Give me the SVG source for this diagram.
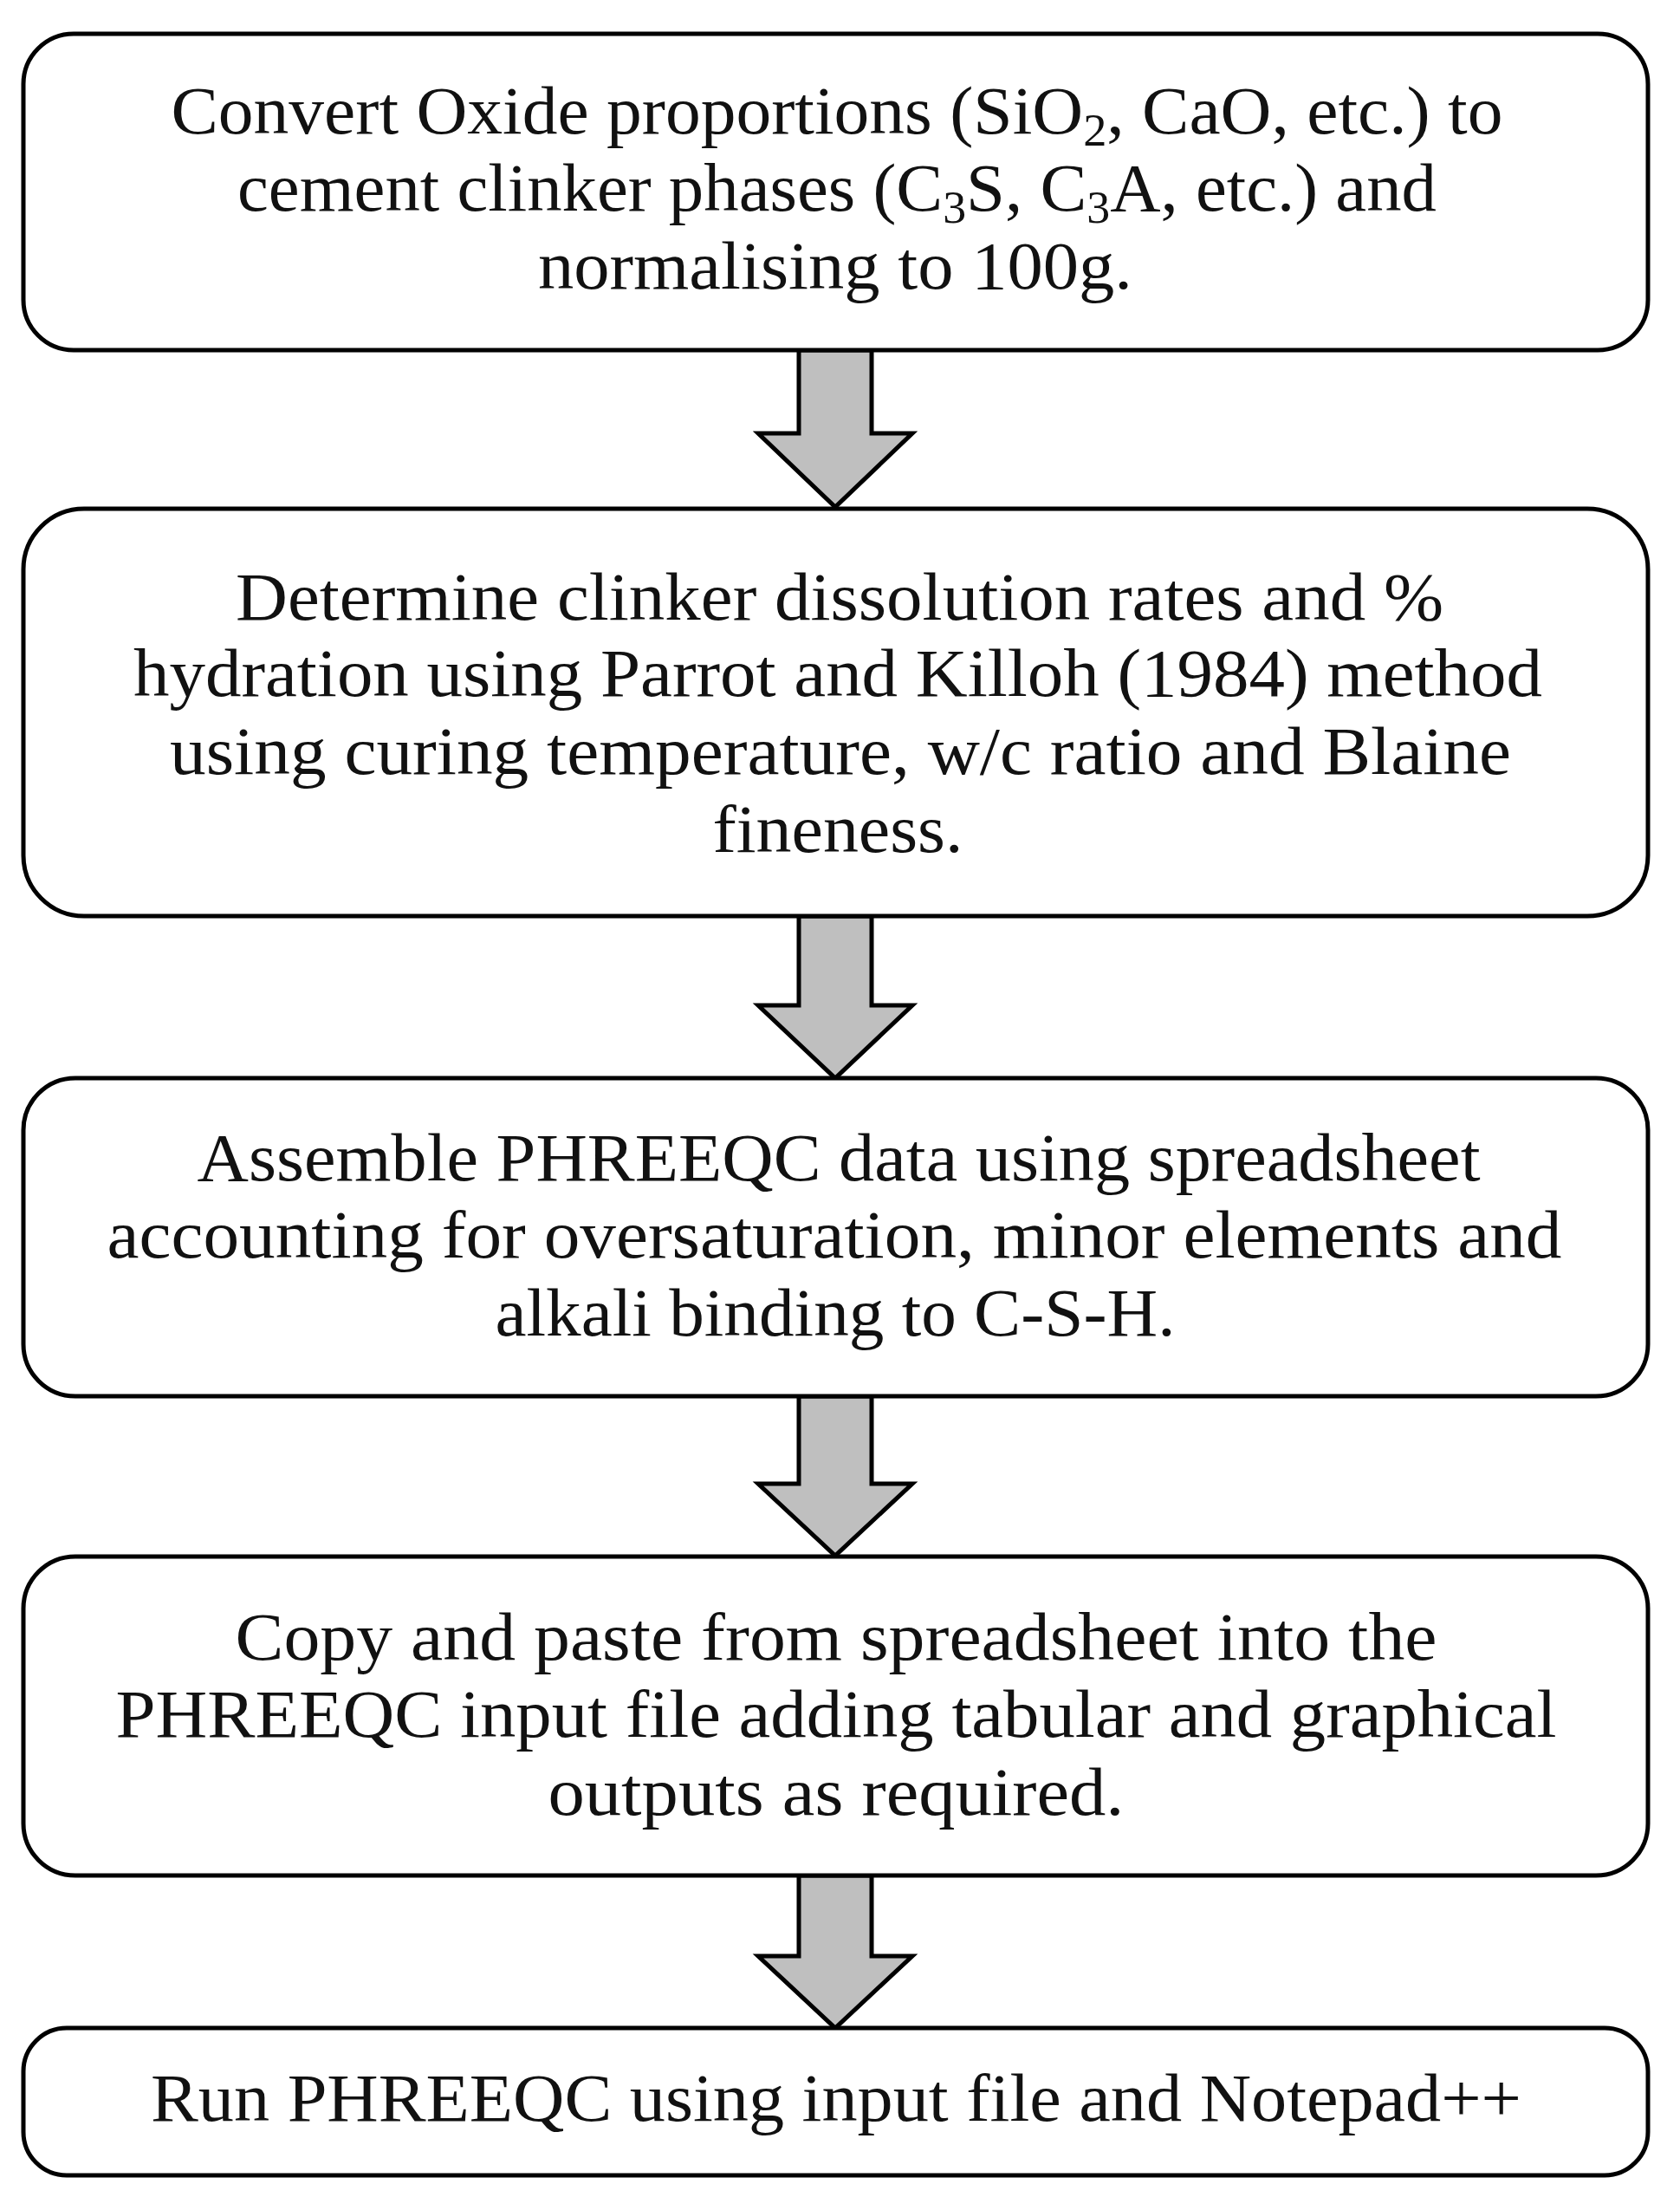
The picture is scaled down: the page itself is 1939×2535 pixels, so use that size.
<svg xmlns="http://www.w3.org/2000/svg" width="1939" height="2535" viewBox="0 0 1939 2535">
<style>
.box{fill:#fff;stroke:#000;stroke-width:5}
.arr{fill:#BFBFBF;stroke:#000;stroke-width:5;stroke-linejoin:miter}
.t{font-family:"Liberation Serif","Times New Roman",serif;font-size:78px;fill:#111;text-anchor:middle}
.sub{font-size:52px}
</style>
<rect width="1939" height="2535" fill="#fff"/>
<g id="connectors">
<path class="arr" d="M922,404 L1006,404 L1006,500 L1053,500 L964,585 L875,500 L922,500 Z"/>
<path class="arr" d="M922,1057 L1006,1057 L1006,1160 L1053,1160 L964,1244 L875,1160 L922,1160 Z"/>
<path class="arr" d="M922,1611 L1006,1611 L1006,1712 L1053,1712 L964,1795 L875,1712 L922,1712 Z"/>
<path class="arr" d="M922,2164 L1006,2164 L1006,2257 L1053,2257 L964,2340 L875,2257 L922,2257 Z"/>
</g>
<g id="node1">
<rect class="box" x="27" y="39" width="1875" height="365" rx="58" ry="58"/>
<text class="t" x="966" y="154" textLength="1537" lengthAdjust="spacingAndGlyphs">Convert Oxide proportions (SiO<tspan class="sub" dy="14">2</tspan><tspan dy="-14">, CaO, etc.) to</tspan></text>
<text class="t" x="966" y="243" textLength="1384" lengthAdjust="spacingAndGlyphs">cement clinker phases (C<tspan class="sub" dy="14">3</tspan><tspan dy="-14">S, C</tspan><tspan class="sub" dy="14">3</tspan><tspan dy="-14">A, etc.) and</tspan></text>
<text class="t" x="964" y="333" textLength="686" lengthAdjust="spacingAndGlyphs">normalising to 100g.</text>
</g>
<g id="node2">
<rect class="box" x="27" y="587" width="1875" height="470" rx="70" ry="70"/>
<text class="t" x="969" y="715" textLength="1394" lengthAdjust="spacingAndGlyphs">Determine clinker dissolution rates and %</text>
<text class="t" x="967" y="803" textLength="1626" lengthAdjust="spacingAndGlyphs">hydration using Parrot and Killoh (1984) method</text>
<text class="t" x="970" y="893" textLength="1548" lengthAdjust="spacingAndGlyphs">using curing temperature, w/c ratio and Blaine</text>
<text class="t" x="967" y="983" textLength="289" lengthAdjust="spacingAndGlyphs">fineness.</text>
</g>
<g id="node3">
<rect class="box" x="27" y="1244" width="1875" height="367" rx="60" ry="60"/>
<text class="t" x="968" y="1362" textLength="1481" lengthAdjust="spacingAndGlyphs">Assemble PHREEQC data using spreadsheet</text>
<text class="t" x="963" y="1451" textLength="1679" lengthAdjust="spacingAndGlyphs">accounting for oversaturation, minor elements and</text>
<text class="t" x="964" y="1541" textLength="785" lengthAdjust="spacingAndGlyphs">alkali binding to C-S-H.</text>
</g>
<g id="node4">
<rect class="box" x="27" y="1796" width="1875" height="368" rx="60" ry="60"/>
<text class="t" x="965" y="1915" textLength="1387" lengthAdjust="spacingAndGlyphs">Copy and paste from spreadsheet into the</text>
<text class="t" x="965" y="2004" textLength="1663" lengthAdjust="spacingAndGlyphs">PHREEQC input file adding tabular and graphical</text>
<text class="t" x="965" y="2094" textLength="665" lengthAdjust="spacingAndGlyphs">outputs as required.</text>
</g>
<g id="node5">
<rect class="box" x="27" y="2340" width="1875" height="170" rx="50" ry="50"/>
<text class="t" x="965" y="2447" textLength="1582" lengthAdjust="spacingAndGlyphs">Run PHREEQC using input file and Notepad++</text>
</g>
</svg>
